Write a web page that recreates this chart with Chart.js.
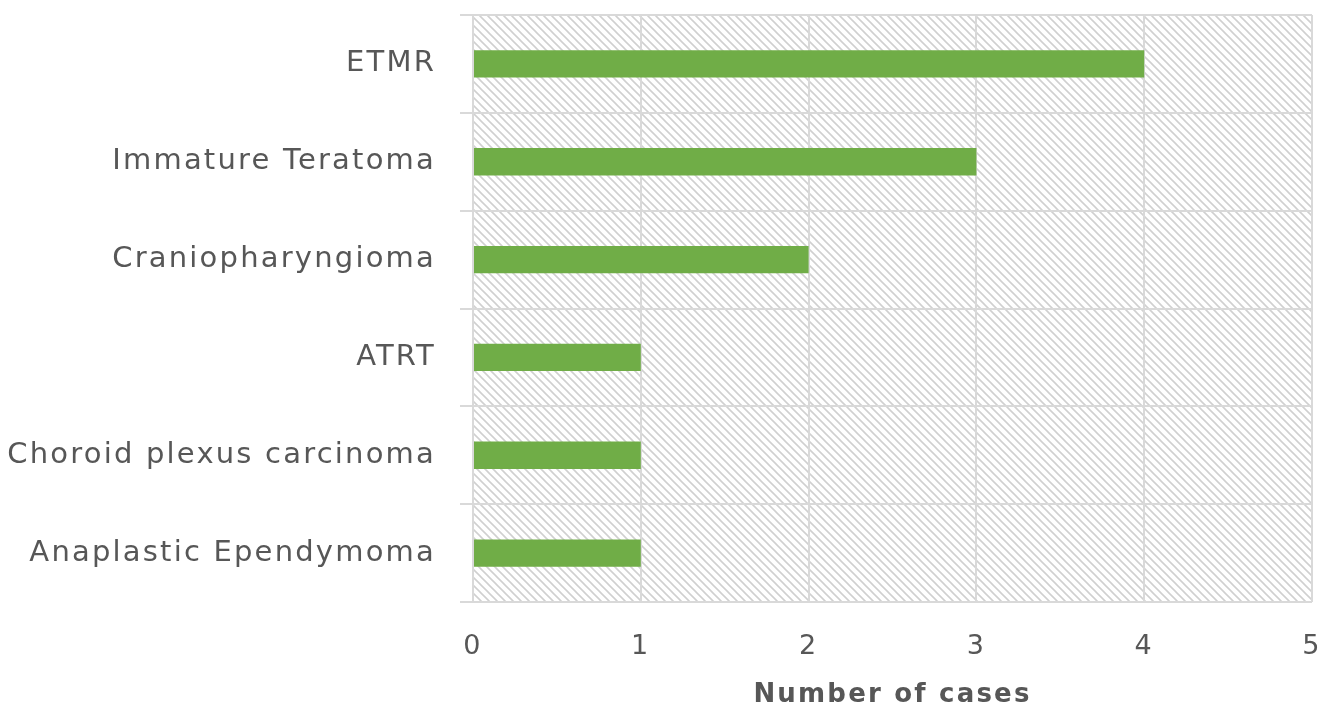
<!DOCTYPE html>
<html>
<head>
<meta charset="utf-8">
<script src="https://cdn.jsdelivr.net/npm/chart.js@4"></script>
<style>
  html, body { margin: 0; padding: 0; background: #fff; }
  #wrap { width: 1328px; height: 711px; position: relative; }
</style>
</head>
<body>
<div id="wrap"><canvas id="chart"></canvas></div>
<script>
  const categories = [
    "ETMR",
    "Immature Teratoma",
    "Craniopharyngioma",
    "ATRT",
    "Choroid plexus carcinoma",
    "Anaplastic Ependymoma",
  ];
  const cases = [4, 3, 2, 1, 1, 1];
  const xTicks = [0, 1, 2, 3, 4, 5];

  const textColor = "#575757";
  const gridColor = "#d9d9d9";
  const fontFamily = "'DejaVu Sans', Verdana, sans-serif";

  // diagonal hatch behind the plot area
  const makeHatch = (ctx) => {
    const size = 8;
    const c = document.createElement("canvas");
    c.width = size;
    c.height = size;
    const g = c.getContext("2d");
    g.fillStyle = "#fff";
    g.fillRect(0, 0, size, size);
    g.strokeStyle = "#d0d0d0";
    g.lineWidth = 1.6;
    g.beginPath();
    g.moveTo(-2, -2); g.lineTo(size + 2, size + 2);
    g.moveTo(-2, size - 2); g.lineTo(2, size + 2);
    g.moveTo(size - 2, -2); g.lineTo(size + 2, 2);
    g.stroke();
    return ctx.createPattern(c, "repeat");
  };

  // the source font is wider than anything installed, so space the letters a bit
  const spacing = (chart) => { chart.ctx.letterSpacing = "2.2px"; };

  const hatchPlugin = {
    id: "hatch",
    beforeUpdate: spacing,
    beforeLayout: spacing,
    beforeDraw(chart) {
      spacing(chart);
      const { ctx, chartArea: a } = chart;
      ctx.save();
      ctx.fillStyle = makeHatch(ctx);
      ctx.fillRect(a.left, a.top, a.right - a.left, a.bottom - a.top);
      ctx.restore();
    },
  };

  new Chart(document.getElementById("chart"), {
    type: "bar",
    data: {
      labels: categories,
      datasets: [{
        label: "Number of cases",
        data: cases,
        backgroundColor: "#70ad47",
        borderWidth: 0,
        barPercentage: 0.28,
        categoryPercentage: 1,
      }],
    },
    options: {
      indexAxis: "y",
      responsive: true,
      maintainAspectRatio: false,
      animation: false,
      layout: { padding: { top: 15, right: 16, bottom: 0, left: 0 } },
      plugins: {
        legend: { display: false },
        tooltip: { enabled: false },
      },
      scales: {
        x: {
          min: 0,
          max: 5,
          afterBuildTicks: (axis) => { axis.ticks = xTicks.map((v) => ({ value: v })); },
          afterFit: (axis) => {
            axis.height = 109;
            axis.paddingLeft = 0;
            axis.paddingRight = 0;
          },
          border: { display: false },
          grid: { color: gridColor, lineWidth: 2, drawTicks: false },
          ticks: { color: textColor, padding: 29, font: { family: fontFamily, size: 27 } },
          title: {
            display: true,
            text: "Number of cases",
            color: textColor,
            padding: { top: 0, bottom: 0 },
            font: { family: fontFamily, size: 26, weight: "bold" },
          },
        },
        y: {
          afterFit: (axis) => {
            axis.width = 473;
            axis.paddingTop = 0;
            axis.paddingBottom = 0;
          },
          border: { display: true, color: gridColor, width: 2 },
          grid: { color: gridColor, lineWidth: 2, offset: true, tickLength: 13 },
          ticks: { color: textColor, padding: 24, font: { family: fontFamily, size: 29 } },
        },
      },
    },
    plugins: [hatchPlugin],
  });
</script>
</body>
</html>
